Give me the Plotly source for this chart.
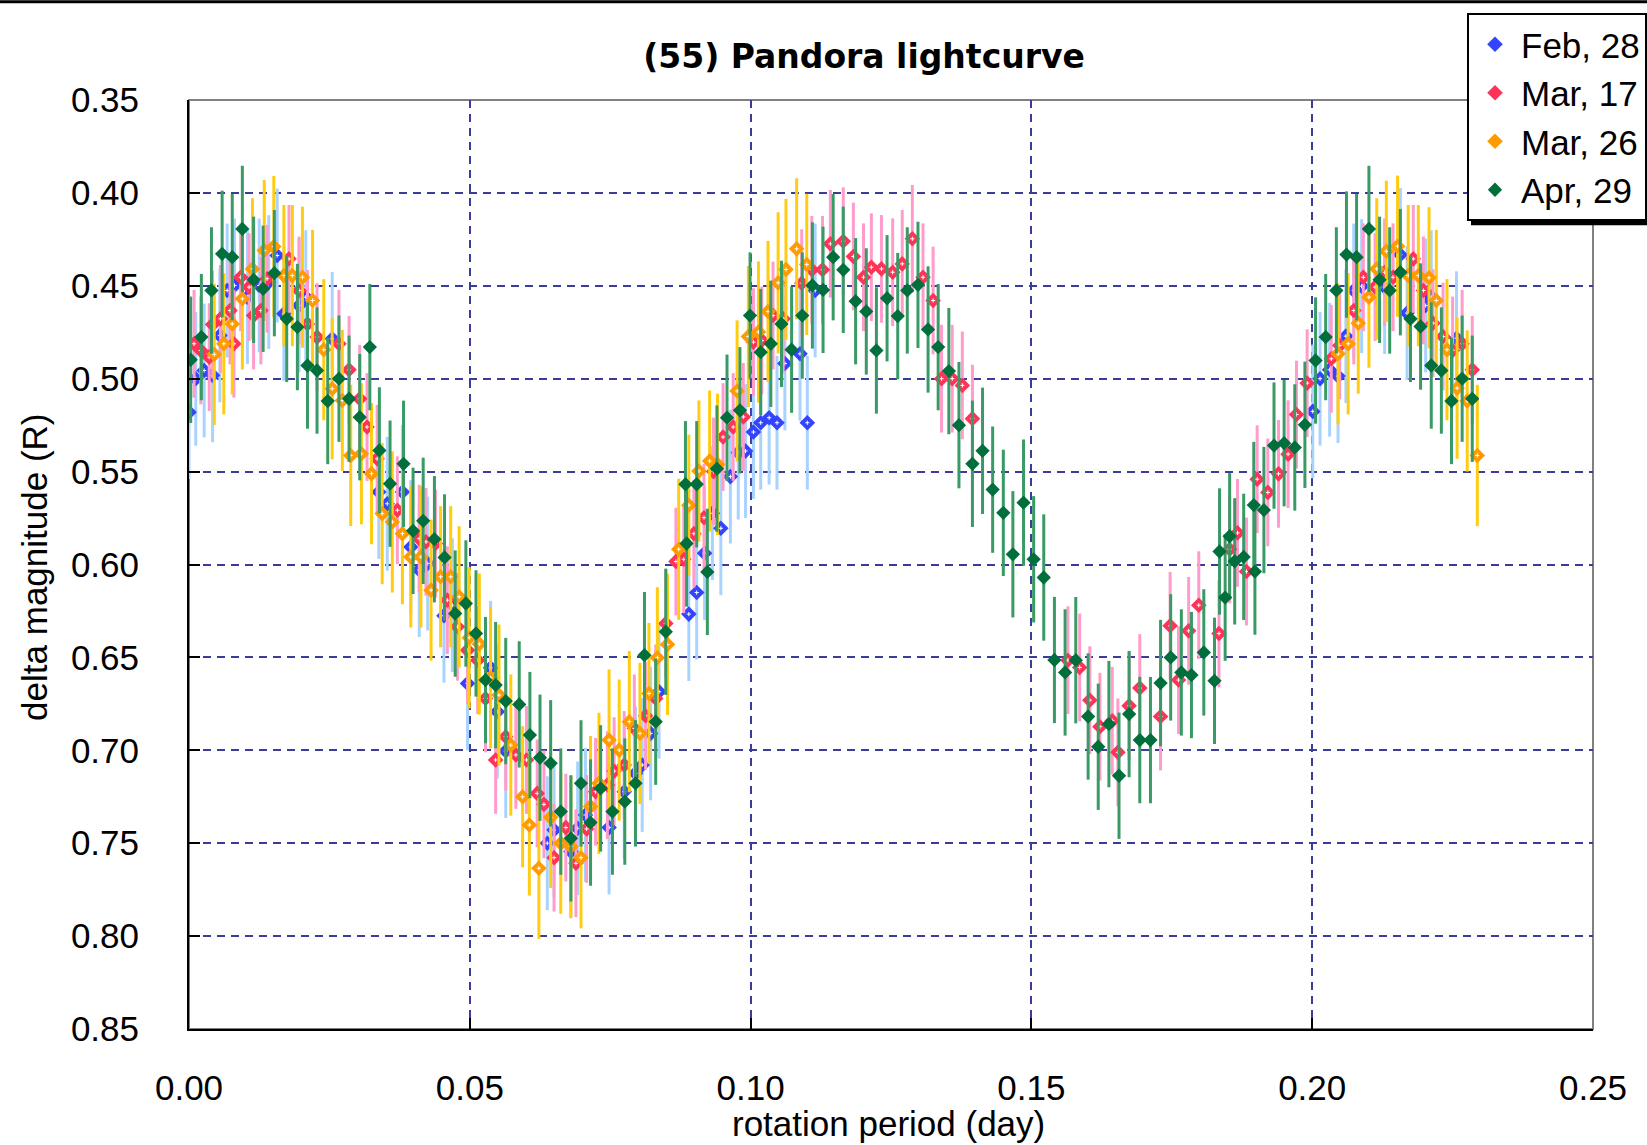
import plotly.graph_objects as go

# ---------------- data ----------------
feb_x = [0.0000, 0.0012, 0.0027, 0.0042, 0.0055, 0.0068, 0.0081, 0.0104, 0.0125, 0.0142,
         0.0157, 0.0169, 0.0196, 0.0208, 0.0255, 0.0338, 0.0353, 0.0380, 0.0395, 0.0410,
         0.0425, 0.0454, 0.0469, 0.0496, 0.0537, 0.0549, 0.0564, 0.0638, 0.0650, 0.0680,
         0.0692, 0.0706, 0.0748, 0.0775, 0.0795, 0.0807, 0.0822, 0.0837, 0.0890, 0.0904,
         0.0918, 0.0932, 0.0947, 0.0964, 0.0978, 0.0991, 0.1005, 0.1018, 0.1033, 0.1047,
         0.1061, 0.1088, 0.1101, 0.1115,
         0.2001, 0.2014, 0.2031, 0.2046, 0.2060, 0.2074, 0.2088, 0.2129, 0.2157, 0.2169,
         0.2202, 0.2212, 0.2257]
feb_y = [0.518, 0.500, 0.4956, 0.4982, 0.4767, 0.4525, 0.4498, 0.4561, 0.4498, 0.4480,
         0.4337, 0.4651, 0.4606, 0.4561, 0.4785, 0.5610, 0.5673, 0.5610, 0.5906, 0.6030,
         0.5995, 0.6276, 0.6219, 0.6640, 0.6556, 0.6792, 0.7004, 0.7500, 0.7429, 0.7545,
         0.7420, 0.7348, 0.7416, 0.7223, 0.7124, 0.7079, 0.6909, 0.6685, 0.6267, 0.6151,
         0.5939, 0.5724, 0.5805, 0.5527, 0.5398, 0.5389, 0.5287, 0.5237, 0.5210, 0.5237,
         0.4918, 0.4866, 0.5237, 0.4525,
         0.5176, 0.5000, 0.4952, 0.4986, 0.4771, 0.4525, 0.4502, 0.4507, 0.4333, 0.4647,
         0.4606, 0.4561, 0.4782]
feb_err = 0.036

mar17_x = [0.0009, 0.0021, 0.0036, 0.0042, 0.0056, 0.0073, 0.0080, 0.0092, 0.0107, 0.0115,
           0.0128, 0.0139, 0.0178, 0.0196, 0.0211, 0.0228, 0.0267, 0.0285, 0.0304, 0.0317,
           0.0335, 0.0371, 0.0410, 0.0422, 0.0439, 0.0460, 0.0478, 0.0496, 0.0514, 0.0528,
           0.0546, 0.0564, 0.0582, 0.0601, 0.0620, 0.0632, 0.0650, 0.0671, 0.0689, 0.0708,
           0.0724, 0.0745, 0.0757, 0.0775, 0.0793, 0.0813, 0.0831, 0.0849, 0.0867, 0.0881,
           0.0899, 0.0917, 0.0934, 0.0951, 0.0969, 0.0987, 0.1005, 0.1020, 0.1040, 0.1058,
           0.1091, 0.1109, 0.1128, 0.1142, 0.1165, 0.1183, 0.1201, 0.1215, 0.1233, 0.1253,
           0.1270, 0.1288, 0.1307, 0.1325, 0.1340, 0.1359, 0.1377, 0.1395,
           0.1565, 0.1586, 0.1604, 0.1622, 0.1644, 0.1654, 0.1674, 0.1693, 0.1730, 0.1747,
           0.1762, 0.1780, 0.1798, 0.1834, 0.1853, 0.1867, 0.1883, 0.1902, 0.1921, 0.1940,
           0.1957, 0.1972, 0.1991, 0.2034, 0.2049, 0.2074, 0.2091, 0.2112, 0.2129, 0.2144,
           0.2180, 0.2198, 0.2215, 0.2233, 0.2250, 0.2267, 0.2285]
mar17_y = [0.4812, 0.4848, 0.4884, 0.4708, 0.4678, 0.4633, 0.4812, 0.4454, 0.4507, 0.4660,
           0.4633, 0.4462, 0.4355, 0.4525, 0.4705, 0.4776, 0.4812, 0.4952, 0.5108, 0.5260,
           0.5431, 0.5708, 0.5861, 0.5878, 0.5887, 0.6192, 0.6335, 0.6461, 0.6515, 0.6721,
           0.7052, 0.6927, 0.7025, 0.7052, 0.7232, 0.7291, 0.7578, 0.7416, 0.7608, 0.7423,
           0.7223, 0.7187, 0.7112, 0.7079, 0.6882, 0.6814, 0.6721, 0.6317, 0.5984, 0.5972,
           0.5834, 0.5748, 0.5500, 0.5314, 0.5260, 0.5206, 0.4803, 0.4794, 0.4660, 0.4678,
           0.4486, 0.4414, 0.4414, 0.4274, 0.4260, 0.4342, 0.4454, 0.4400, 0.4409, 0.4427,
           0.4382, 0.4247, 0.4454, 0.4579, 0.5000, 0.5000, 0.5036, 0.5215,
           0.6515, 0.6554, 0.6730, 0.6873, 0.6841, 0.7011, 0.6760, 0.6665, 0.6818, 0.6330,
           0.6622, 0.6357, 0.6219, 0.6371, 0.5918, 0.5830, 0.6038, 0.5541, 0.5612, 0.5512,
           0.5406, 0.5193, 0.5024, 0.4893, 0.4821, 0.4633, 0.4454, 0.4507, 0.4427, 0.4454,
           0.4355, 0.4525, 0.4701, 0.4773, 0.4848, 0.4812, 0.4952]
mar17_err = 0.029

mar26_x = [0.0045, 0.0062, 0.0077, 0.0095, 0.0113, 0.0134, 0.0151, 0.0169, 0.0184, 0.0202,
           0.0220, 0.0240, 0.0255, 0.0273, 0.0288, 0.0307, 0.0325, 0.0344, 0.0362, 0.0380,
           0.0395, 0.0413, 0.0431, 0.0448, 0.0466, 0.0481, 0.0499, 0.0517, 0.0537, 0.0552,
           0.0573, 0.0594, 0.0606, 0.0623, 0.0644, 0.0662, 0.0680, 0.0698, 0.0715, 0.0730,
           0.0748, 0.0766, 0.0784, 0.0803, 0.0819, 0.0834, 0.0852, 0.0872, 0.0890, 0.0908,
           0.0927, 0.0941, 0.0976, 0.0996, 0.1014, 0.1031, 0.1049, 0.1063, 0.1082, 0.1100,
           0.2046, 0.2064, 0.2082, 0.2101, 0.2115, 0.2132, 0.2152, 0.2171, 0.2189, 0.2208,
           0.2221, 0.2240, 0.2258, 0.2276, 0.2294]
mar26_y = [0.4869, 0.4812, 0.4705, 0.4570, 0.4409, 0.4310, 0.4289, 0.4445, 0.4445, 0.4454,
           0.4579, 0.4844, 0.5054, 0.5117, 0.5413, 0.5404, 0.5511, 0.5726, 0.5771, 0.5834,
           0.5959, 0.5959, 0.6138, 0.6066, 0.6066, 0.6174, 0.6394, 0.6428, 0.6610, 0.6703,
           0.6972, 0.7250, 0.7402, 0.7635, 0.7361, 0.7500, 0.7518, 0.7578, 0.7303, 0.7178,
           0.6945, 0.6999, 0.6846, 0.6909, 0.6694, 0.6502, 0.6430, 0.5918, 0.5681, 0.5497,
           0.5443, 0.5461, 0.5066, 0.4773, 0.4749, 0.4638, 0.4484, 0.4412, 0.4301, 0.4385,
           0.4866, 0.4812, 0.4701, 0.4561, 0.4409, 0.4314, 0.4287, 0.4445, 0.4445, 0.4457,
           0.4579, 0.4844, 0.5051, 0.5120, 0.5413]
mar26_err = 0.038

apr29_x = [0.0003, 0.0022, 0.0040, 0.0059, 0.0077, 0.0095, 0.0115, 0.0132, 0.0152, 0.0174,
           0.0193, 0.0211, 0.0228, 0.0247, 0.0267, 0.0285, 0.0304, 0.0322, 0.0339, 0.0358,
           0.0382, 0.0399, 0.0417, 0.0437, 0.0455, 0.0474, 0.0493, 0.0511, 0.0528, 0.0546,
           0.0564, 0.0588, 0.0607, 0.0625, 0.0644, 0.0662, 0.0680, 0.0698, 0.0715, 0.0733,
           0.0754, 0.0776, 0.0795, 0.0811, 0.0831, 0.0849, 0.0884, 0.0886, 0.0904, 0.0923,
           0.0940, 0.0958, 0.0981, 0.0999, 0.1018, 0.1036, 0.1055, 0.1073, 0.1092, 0.1110,
           0.1129, 0.1147, 0.1165, 0.1187, 0.1206, 0.1224, 0.1243, 0.1262, 0.1279, 0.1298,
           0.1316, 0.1334, 0.1353, 0.1371, 0.1395, 0.1413, 0.1431, 0.1450, 0.1467, 0.1486,
           0.1504, 0.1522, 0.1541, 0.1560, 0.1579, 0.1601, 0.1619, 0.1638, 0.1656, 0.1674,
           0.1693, 0.1712, 0.1730, 0.1748, 0.1767, 0.1785, 0.1807, 0.1826, 0.1835, 0.1845,
           0.1853, 0.1862, 0.1878, 0.1896, 0.1898, 0.1914, 0.1932, 0.1950, 0.1969, 0.1987,
           0.2006, 0.2024, 0.2043, 0.2061, 0.2079, 0.2101, 0.2120, 0.2138, 0.2157, 0.2175,
           0.2193, 0.2212, 0.2230, 0.2248, 0.2267, 0.2285]
apr29_y = [0.4898, 0.4776, 0.4525, 0.4328, 0.4346, 0.4194, 0.4468, 0.4516, 0.4432, 0.4678,
           0.4722, 0.4929, 0.4956, 0.5120, 0.5000, 0.5108, 0.5207, 0.4830, 0.5386, 0.5565,
           0.5458, 0.5819, 0.5765, 0.5864, 0.5962, 0.6264, 0.6210, 0.6371, 0.6622, 0.6649,
           0.6735, 0.6753, 0.6918, 0.7040, 0.7070, 0.7330, 0.7474, 0.7178, 0.7389, 0.7205,
           0.7330, 0.7276, 0.7178, 0.6488, 0.6846, 0.6362, 0.5568, 0.5887, 0.5568, 0.6040,
           0.5484, 0.5210, 0.5170, 0.4660, 0.4857, 0.4812, 0.4705, 0.4844, 0.4660, 0.4498,
           0.4522, 0.4346, 0.4414, 0.4583, 0.4638, 0.4848, 0.4567, 0.4663, 0.4525, 0.4495,
           0.4735, 0.4830, 0.4959, 0.5250, 0.5458, 0.5388, 0.5597, 0.5722, 0.5945, 0.5667,
           0.5972, 0.6070, 0.6514, 0.6581, 0.6515, 0.6818, 0.6981, 0.6859, 0.7137, 0.6805,
           0.6945, 0.6945, 0.6638, 0.6500, 0.6581, 0.6595, 0.6473, 0.6626, 0.5930, 0.6178,
           0.5848, 0.5983, 0.5959, 0.5680, 0.6038, 0.5707, 0.5360, 0.5347, 0.5370, 0.5248,
           0.4902, 0.4776, 0.4525, 0.4332, 0.4346, 0.4194, 0.4468, 0.4525, 0.4427, 0.4678,
           0.4719, 0.4929, 0.4956, 0.5120, 0.5000, 0.5108]
apr29_err = 0.034

x_ticks = [0.00, 0.05, 0.10, 0.15, 0.20, 0.25]
y_ticks = [0.35, 0.40, 0.45, 0.50, 0.55, 0.60, 0.65, 0.70, 0.75, 0.80, 0.85]

# ---------------- figure ----------------
FONT = "Liberation Sans, Arial, sans-serif"
series = [
    ("Feb, 28", feb_x, feb_y, feb_err, "#3344ff", "#a9d3ff", True),
    ("Mar, 17", mar17_x, mar17_y, mar17_err, "#ff3358", "#ff9ccb", True),
    ("Mar, 26", mar26_x, mar26_y, mar26_err, "#ff9a00", "#ffcc11", True),
    ("Apr, 29", apr29_x, apr29_y, apr29_err, "#006f3c", "#3a9a66", False),
]

fig = go.Figure()
for name, xs, ys, err, mc, ec, cross in series:
    fig.add_trace(go.Scatter(
        x=xs, y=ys, mode="markers", name=name, legendgroup=name,
        marker=dict(symbol="diamond", size=12 if cross else 11, color=mc, line=dict(width=0)),
        error_y=dict(type="data", array=[err] * len(ys), color=ec, thickness=3, width=0),
    ))
    if cross:
        fig.add_trace(go.Scatter(
            x=xs, y=ys, mode="markers", showlegend=False, hoverinfo="skip",
            legendgroup=name,
            marker=dict(symbol="cross-thin", size=3, color="white",
                        line=dict(width=1, color="white")),
        ))

grid_color = "#3b3b99"
fig.update_xaxes(
    range=[0, 0.25], tickvals=x_ticks, tickformat=".2f",
    showgrid=True, gridcolor=grid_color, gridwidth=2, griddash="8px,6px",
    showline=True, linecolor="black", linewidth=2,
    ticks="inside", ticklen=11, tickwidth=2, tickcolor="black",
    tickfont=dict(family=FONT, size=35, color="black"), ticklabelstandoff=27,
    zeroline=False, automargin=False,
)
fig.update_yaxes(
    range=[0.85, 0.35], tickvals=y_ticks, tickformat=".2f",
    showgrid=True, gridcolor=grid_color, gridwidth=2, griddash="8px,6px",
    showline=True, linecolor="black", linewidth=2,
    ticks="inside", ticklen=11, tickwidth=2, tickcolor="black",
    tickfont=dict(family=FONT, size=35, color="black"), ticklabelstandoff=41,
    zeroline=False, automargin=False,
)

fig.update_layout(
    width=1647, height=1145,
    margin=dict(l=189, r=54, t=100, b=116, autoexpand=False),
    paper_bgcolor="white", plot_bgcolor="white",
    font=dict(family=FONT, color="black"),
    title=dict(text="<b>(55) Pandora lightcurve</b>", x=0.5246, xanchor="center",
               y=0.951, yanchor="middle",
               font=dict(family="DejaVu Sans, sans-serif", size=33, color="black")),
    legend=dict(xref="container", yref="container", x=1467 / 1647, y=1 - 13 / 1145,
                xanchor="left", yanchor="top",
                bgcolor="white", bordercolor="black", borderwidth=2,
                font=dict(family=FONT, size=35, color="black"),
                tracegroupgap=0, traceorder="grouped", itemwidth=42),
    showlegend=True,
    annotations=[
        dict(text="rotation period (day)", xref="paper", yref="paper", x=0.498, y=-0.1245,
             xanchor="center", yanchor="bottom", showarrow=False,
             font=dict(family=FONT, size=35, color="black")),
        dict(text="delta magnitude (R)", xref="paper", yref="paper", x=-0.1097, y=0.4974,
             xanchor="center", yanchor="middle", showarrow=False, textangle=-90,
             font=dict(family=FONT, size=35, color="black")),
    ],
    shapes=[
        dict(type="rect", xref="paper", yref="paper", x0=0, x1=1, y0=0, y1=1,
             line=dict(color="#808080", width=2), layer="below"),
        dict(type="line", xref="paper", yref="paper", x0=-0.2, x1=1.1, y0=1.1057, y1=1.1057,
             line=dict(color="black", width=3)),
        # legend drop shadow
        dict(type="rect", xref="paper", yref="paper", x0=0.9131, x1=1.045,
             y0=0.8653, y1=1.089, fillcolor="black", line=dict(width=0), layer="above"),
    ],
)

fig.write_html("out.html", config={"displayModeBar": False},
               post_script="document.body.style.margin='0px';")
